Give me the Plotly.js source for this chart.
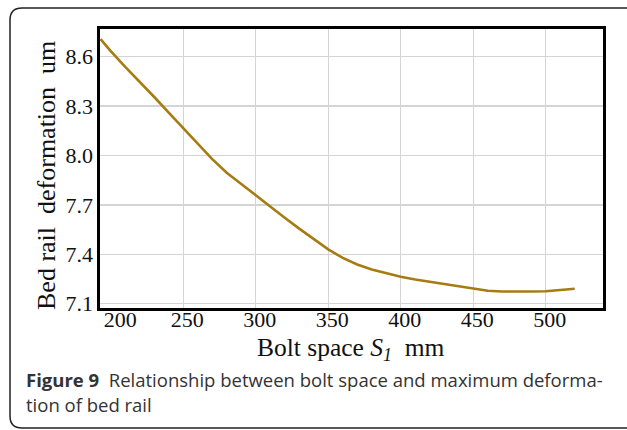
<!DOCTYPE html>
<html>
<head>
<meta charset="utf-8">
<script src="https://cdn.plot.ly/plotly-3.0.1.min.js"></script>
<style>
  html, body { margin: 0; padding: 0; background: #ffffff; }
  #chart { width: 627px; height: 430px; }
</style>
</head>
<body>
<div id="chart"></div>
<script>
// ---- data ----
const boltSpace = [193, 200, 210, 220, 230, 240, 250, 260, 270, 280, 290, 300, 310, 320, 330, 340, 350, 360, 370, 380, 390, 400, 410, 420, 430, 440, 450, 460, 470, 480, 490, 500, 510, 520];
const deformation = [8.707, 8.634, 8.538, 8.448, 8.355, 8.26, 8.165, 8.07, 7.978, 7.895, 7.826, 7.76, 7.692, 7.622, 7.556, 7.492, 7.43, 7.378, 7.338, 7.308, 7.285, 7.264, 7.247, 7.233, 7.221, 7.209, 7.192, 7.179, 7.174, 7.173, 7.174, 7.176, 7.183, 7.191];
const xTickVals = [200, 250, 300, 350, 400, 450, 500];
const xTickLabels = ['200', '250', '300', '350', '400', '450', '500'];
const xGridVals = [250, 300, 350, 400, 450, 500];
const yTickVals = [7.1, 7.4, 7.7, 8.0, 8.3, 8.6];
const yTickLabels = ['7.1', '7.4', '7.7', '8.0', '8.3', '8.6'];
const xTitle = 'Bolt space <i>S</i><sub><i>1</i></sub>  mm';
const yTitle = 'Bed rail  deformation  um';
const captionLine1 = '<b>Figure 9</b>  Relationship between bolt space and maximum deforma-';
const captionLine2 = 'tion of bed rail';

// ---- layout geometry (pixels) ----
const W = 627, H = 430;
const M = { l: 100, r: 24, t: 29, b: 122 };
const PW = W - M.l - M.r, PH = H - M.t - M.b;
const px = x => (x - M.l) / PW;          // pixel x -> paper x
const py = y => (H - M.b - y) / PH;      // pixel y -> paper y

function framePath(x0, y0, x1, y1, r) {
  const rx = r / PW, ry = r / PH;
  const X0 = px(x0), X1 = px(x1), Y0 = py(y0), Y1 = py(y1);
  return `M ${X0 + rx} ${Y0} L ${X1 - rx} ${Y0} Q ${X1} ${Y0} ${X1} ${Y0 - ry} ` +
         `L ${X1} ${Y1 + ry} Q ${X1} ${Y1} ${X1 - rx} ${Y1} ` +
         `L ${X0 + rx} ${Y1} Q ${X0} ${Y1} ${X0} ${Y1 + ry} ` +
         `L ${X0} ${Y0 - ry} Q ${X0} ${Y0} ${X0 + rx} ${Y0} Z`;
}

const serif = 'Liberation Serif';
const xRange = [192.6, 539.5];

const traces = [
  {
    x: boltSpace, y: deformation,
    type: 'scatter', mode: 'lines',
    line: { color: '#A67C12', width: 2.6 },
    xaxis: 'x', yaxis: 'y', hoverinfo: 'skip'
  },
  // invisible helper so the grid-only overlay axis gets drawn
  {
    x: [boltSpace[0]], y: [deformation[0]],
    type: 'scatter', mode: 'markers',
    marker: { opacity: 0, size: 1 },
    xaxis: 'x2', yaxis: 'y', hoverinfo: 'skip'
  }
];

const layout = {
  width: W, height: H,
  margin: M,
  paper_bgcolor: '#ffffff',
  plot_bgcolor: '#ffffff',
  showlegend: false,
  xaxis: {
    range: xRange,
    tickmode: 'array',
    tickvals: xTickVals,
    ticktext: xTickLabels.map((t, i) => i === 0 ? '\u2007' + t : t),
    ticks: '',
    ticklabelshift: 4,
    ticklabelstandoff: -10,
    showgrid: false,
    zeroline: false,
    showline: true, mirror: true, linecolor: '#000', linewidth: 2.6,
    tickfont: { family: serif, size: 22, color: '#111' }
  },
  xaxis2: {
    overlaying: 'x',
    side: 'bottom',
    range: xRange,
    tickmode: 'array',
    tickvals: xGridVals,
    showticklabels: false,
    ticks: '',
    showgrid: true,
    gridcolor: '#d4d4d4', gridwidth: 1.2,
    zeroline: false,
    showline: false
  },
  yaxis: {
    range: [7.074, 8.768],
    tickmode: 'array',
    tickvals: yTickVals,
    ticktext: yTickLabels,
    ticks: '',
    showgrid: true,
    gridcolor: '#d4d4d4', gridwidth: 1.2,
    zeroline: false,
    showline: true, mirror: true, linecolor: '#000', linewidth: 2.6,
    tickfont: { family: serif, size: 22, color: '#111' }
  },
  shapes: [{
    type: 'path', xref: 'paper', yref: 'paper',
    path: framePath(10, 8, 640, 428, 12),
    line: { color: '#222', width: 1.5 },
    fillcolor: 'rgba(0,0,0,0)',
    layer: 'below'
  }],
  annotations: [
    { xref: 'paper', yref: 'paper', x: px(351), y: py(349), xanchor: 'center', yanchor: 'middle',
      text: xTitle, showarrow: false,
      font: { family: serif, size: 25.5, color: '#111' } },
    { xref: 'paper', yref: 'paper', x: px(46), y: py(176), xanchor: 'center', yanchor: 'middle',
      text: yTitle, textangle: -90, showarrow: false,
      font: { family: serif, size: 26, color: '#111' } },
    { xref: 'paper', yref: 'paper', x: px(24), y: py(379), xanchor: 'left', yanchor: 'middle',
      text: captionLine1, showarrow: false, align: 'left',
      font: { family: 'Open Sans', size: 18.5, color: '#333' } },
    { xref: 'paper', yref: 'paper', x: px(24), y: py(404), xanchor: 'left', yanchor: 'middle',
      text: captionLine2, showarrow: false, align: 'left',
      font: { family: 'Open Sans', size: 18.5, color: '#333' } }
  ]
};

Plotly.newPlot('chart', traces, layout, { displayModeBar: false, staticPlot: true });
</script>
</body>
</html>
